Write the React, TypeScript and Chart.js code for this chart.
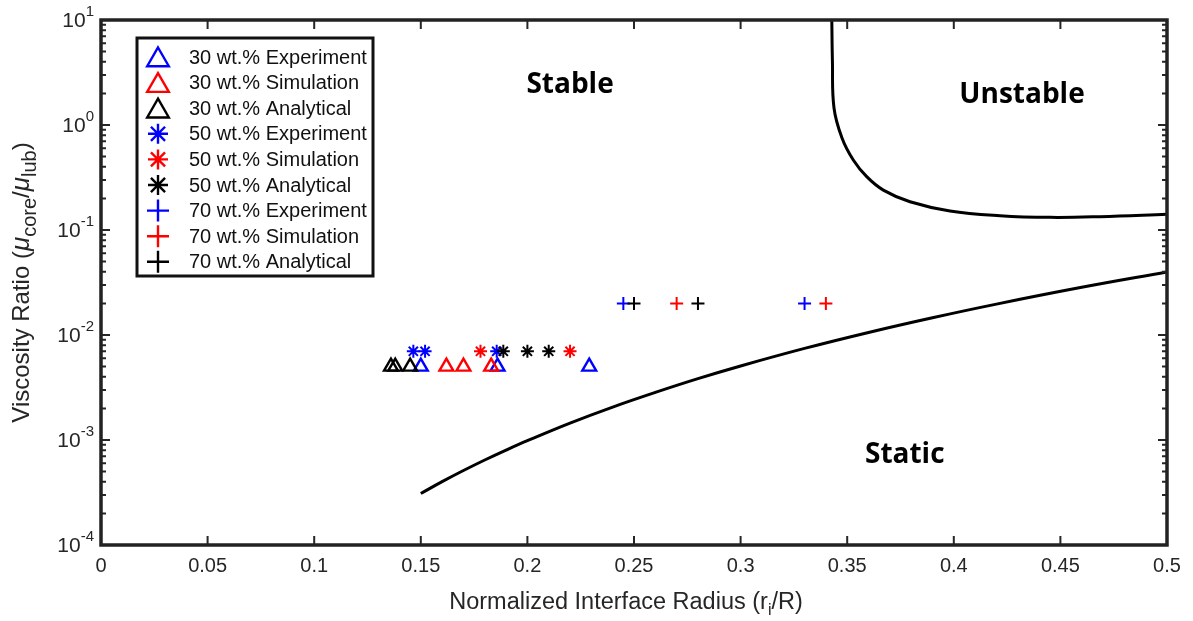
import React, { useEffect, useRef } from 'react';
import { Chart, registerables } from 'chart.js';
import { drawPoint } from 'chart.js/helpers';

Chart.register(...registerables);

// ---- data ----
const ratio30 = 0.005;
const ratio50 = 0.007;
const ratio70 = 0.02;

const exp30X = [0.15, 0.186, 0.229];
const sim30X = [0.162, 0.170, 0.183];
const ana30X = [0.136, 0.138, 0.145];
const exp50X = [0.1465, 0.152, 0.1856];
const sim50X = [0.178, 0.22];
const ana50X = [0.1887, 0.2, 0.21];
const exp70X = [0.245, 0.33];
const sim70X = [0.27, 0.34];
const ana70X = [0.25, 0.28];

const staticBoundX = [0.15, 0.16, 0.17, 0.18, 0.19, 0.20, 0.22, 0.24, 0.26, 0.28, 0.30, 0.33, 0.36, 0.39, 0.42, 0.46, 0.50];
const staticBoundY = [3.09e-4, 4.01e-4, 5.12e-4, 6.45e-4, 8.02e-4, 9.86e-4, 1.45e-3, 2.06e-3, 2.84e-3, 3.84e-3, 5.07e-3, 7.45e-3, 0.01057, 0.01459, 0.01968, 0.02844, 0.0398];

const unstableBoundX = [0.34278, 0.34306, 0.34381, 0.34756, 0.35286, 0.35915, 0.36693, 0.37946, 0.39822, 0.42167, 0.44512, 0.46857, 0.5];
const unstableBoundY = [10, 4.16, 1.452, 0.752, 0.464, 0.322, 0.24, 0.186, 0.152, 0.137, 0.132, 0.134, 0.141];

const xTickValues = [0, 0.05, 0.1, 0.15, 0.2, 0.25, 0.3, 0.35, 0.4, 0.45, 0.5];
const xTickLabels = ['0', '0.05', '0.1', '0.15', '0.2', '0.25', '0.3', '0.35', '0.4', '0.45', '0.5'];
const yTickExponents = [-4, -3, -2, -1, 0, 1];

const regionLabels = ['Stable', 'Unstable', 'Static'];
const regionX = [0.22, 0.432, 0.377];
const regionY = [2.4, 1.93, 7.2e-4];

const BLUE = '#0000ff';
const RED = '#ff0000';
const BLACK = '#000000';
const AXIS = '#262626';
const FONT = 'Arial, "Liberation Sans", sans-serif';

type Series = { label: string; xs: number[]; y: number; color: string; style: string; r: number; lr: number };

const series: Series[] = [
  { label: '30 wt.% Experiment', xs: exp30X, y: ratio30, color: BLUE, style: 'triangle', r: 8, lr: 12.5 },
  { label: '30 wt.% Simulation', xs: sim30X, y: ratio30, color: RED, style: 'triangle', r: 8, lr: 12.5 },
  { label: '30 wt.% Analytical', xs: ana30X, y: ratio30, color: BLACK, style: 'triangle', r: 8, lr: 12.5 },
  { label: '50 wt.% Experiment', xs: exp50X, y: ratio50, color: BLUE, style: 'star', r: 6.5, lr: 10 },
  { label: '50 wt.% Simulation', xs: sim50X, y: ratio50, color: RED, style: 'star', r: 6.5, lr: 10 },
  { label: '50 wt.% Analytical', xs: ana50X, y: ratio50, color: BLACK, style: 'star', r: 6.5, lr: 10 },
  { label: '70 wt.% Experiment', xs: exp70X, y: ratio70, color: BLUE, style: 'cross', r: 6.5, lr: 11 },
  { label: '70 wt.% Simulation', xs: sim70X, y: ratio70, color: RED, style: 'cross', r: 6.5, lr: 11 },
  { label: '70 wt.% Analytical', xs: ana70X, y: ratio70, color: BLACK, style: 'cross', r: 6.5, lr: 11 },
];

type Seg = { t: string; font: string; dy?: number };

function drawSegs(ctx: CanvasRenderingContext2D, segs: Seg[], x: number, y: number, align: string) {
  let total = 0;
  for (const s of segs) {
    ctx.font = s.font;
    total += ctx.measureText(s.t).width;
  }
  let cx = align === 'center' ? x - total / 2 : align === 'right' ? x - total : x;
  ctx.textAlign = 'left';
  for (const s of segs) {
    ctx.font = s.font;
    ctx.fillText(s.t, cx, y + (s.dy || 0));
    cx += ctx.measureText(s.t).width;
  }
}

const framePlugin = {
  id: 'frame',
  afterDraw(chart: any) {
    const { ctx, chartArea: a, scales } = chart;
    const xs = scales.x;
    const ys = scales.y;
    ctx.save();

    // region annotations
    ctx.fillStyle = '#000';
    ctx.font = 'bold 28px "Open Sans", sans-serif';
    ctx.textAlign = 'center';
    ctx.textBaseline = 'middle';
    regionLabels.forEach((t, i) => {
      ctx.fillText(t, xs.getPixelForValue(regionX[i]), ys.getPixelForValue(regionY[i]));
    });

    // ticks (inward)
    ctx.strokeStyle = AXIS;
    ctx.lineWidth = 2;
    ctx.beginPath();
    for (const v of xTickValues) {
      const px = xs.getPixelForValue(v);
      ctx.moveTo(px, a.bottom);
      ctx.lineTo(px, a.bottom - 9);
      ctx.moveTo(px, a.top);
      ctx.lineTo(px, a.top + 9);
    }
    for (const e of yTickExponents) {
      const py = ys.getPixelForValue(Math.pow(10, e));
      ctx.moveTo(a.left, py);
      ctx.lineTo(a.left + 9, py);
      ctx.moveTo(a.right, py);
      ctx.lineTo(a.right - 9, py);
      if (e < 1) {
        for (let k = 2; k <= 9; k++) {
          const pm = ys.getPixelForValue(k * Math.pow(10, e));
          ctx.moveTo(a.left, pm);
          ctx.lineTo(a.left + 5, pm);
          ctx.moveTo(a.right, pm);
          ctx.lineTo(a.right - 5, pm);
        }
      }
    }
    ctx.stroke();

    // frame box
    ctx.lineWidth = 3.5;
    ctx.strokeStyle = '#222';
    ctx.strokeRect(a.left, a.top, a.right - a.left, a.bottom - a.top);

    // x tick labels
    ctx.fillStyle = AXIS;
    ctx.font = `20px ${FONT}`;
    ctx.textAlign = 'center';
    ctx.textBaseline = 'top';
    xTickValues.forEach((v, i) => {
      ctx.fillText(xTickLabels[i], xs.getPixelForValue(v), a.bottom + 11);
    });

    // y tick labels 10^n
    ctx.textBaseline = 'middle';
    for (const e of yTickExponents) {
      const py = ys.getPixelForValue(Math.pow(10, e));
      drawSegs(ctx, [
        { t: '10', font: `21px ${FONT}` },
        { t: String(e), font: `15px ${FONT}`, dy: -9 },
      ], a.left - 7, py + 1, 'right');
    }

    // x title
    ctx.textBaseline = 'middle';
    drawSegs(ctx, [
      { t: 'Normalized Interface Radius (r', font: `23.5px ${FONT}` },
      { t: 'i', font: `16px ${FONT}`, dy: 8 },
      { t: '/R)', font: `23.5px ${FONT}` },
    ], (a.left + a.right) / 2 - 8, 603, 'center');

    // y title
    ctx.save();
    ctx.translate(22, (a.top + a.bottom) / 2);
    ctx.rotate(-Math.PI / 2);
    drawSegs(ctx, [
      { t: 'Viscosity Ratio (', font: `24px ${FONT}` },
      { t: 'μ', font: `italic 26px ${FONT}` },
      { t: 'core', font: `20px ${FONT}`, dy: 8 },
      { t: '/', font: `24px ${FONT}` },
      { t: 'μ', font: `italic 26px ${FONT}` },
      { t: 'lub', font: `20px ${FONT}`, dy: 8 },
      { t: ')', font: `24px ${FONT}` },
    ], 0, 0, 'center');
    ctx.restore();

    // legend
    const lx = 137, ly = 38, lw = 236, lh = 238;
    ctx.fillStyle = '#fff';
    ctx.fillRect(lx, ly, lw, lh);
    ctx.lineWidth = 3;
    ctx.strokeStyle = '#111';
    ctx.strokeRect(lx, ly, lw, lh);
    ctx.textAlign = 'left';
    ctx.textBaseline = 'middle';
    series.forEach((s, i) => {
      const y = ly + 19 + i * 25.6;
      ctx.strokeStyle = s.color;
      ctx.fillStyle = 'rgba(0,0,0,0)';
      ctx.lineWidth = 2.4;
      drawPoint(ctx, { pointStyle: s.style, rotation: 0, radius: s.lr, borderWidth: 2.4 } as any, lx + 21, s.style === 'triangle' ? y + 3 : y);
      ctx.fillStyle = '#111';
      ctx.font = `20px ${FONT}`;
      ctx.fillText(s.label, lx + 52, y + 1);
    });

    ctx.restore();
  },
};

export default function App() {
  const ref = useRef<HTMLCanvasElement | null>(null);

  useEffect(() => {
    if (!ref.current) return;
    const datasets: any[] = [
      {
        type: 'line',
        label: 'static boundary',
        data: staticBoundX.map((x, i) => ({ x, y: staticBoundY[i] })),
        borderColor: '#000',
        borderWidth: 3,
        pointRadius: 0,
        tension: 0.4,
        fill: false,
        order: 200,
      },
      {
        type: 'line',
        label: 'unstable boundary',
        data: unstableBoundX.map((x, i) => ({ x, y: unstableBoundY[i] })),
        borderColor: '#000',
        borderWidth: 3,
        pointRadius: 0,
        tension: 0.4,
        fill: false,
        order: 200,
      },
      ...series.map((s, i) => ({
        type: 'scatter',
        label: s.label,
        data: s.xs.map((x) => ({ x, y: s.y })),
        pointStyle: s.style,
        pointRadius: s.r,
        pointBorderWidth: s.style === 'triangle' ? 2.4 : 2,
        borderColor: s.color,
        backgroundColor: 'rgba(0,0,0,0)',
        showLine: false,
        order: 100 - i,
      })),
    ];

    const chart = new Chart(ref.current, {
      type: 'scatter',
      data: { datasets },
      options: {
        animation: false,
        responsive: true,
        maintainAspectRatio: false,
        layout: { padding: { left: 101, top: 20, right: 26, bottom: 76 } },
        scales: {
          x: { type: 'linear', min: 0, max: 0.5, display: false },
          y: { type: 'logarithmic', min: 1e-4, max: 10, display: false },
        },
        plugins: {
          legend: { display: false },
          tooltip: { enabled: false },
        },
      },
      plugins: [framePlugin],
    });
    return () => chart.destroy();
  }, []);

  return (
    <div style={{ position: 'fixed', left: 0, top: 0, width: 1193, height: 621, background: '#fff' }}>
      <canvas ref={ref} />
    </div>
  );
}
